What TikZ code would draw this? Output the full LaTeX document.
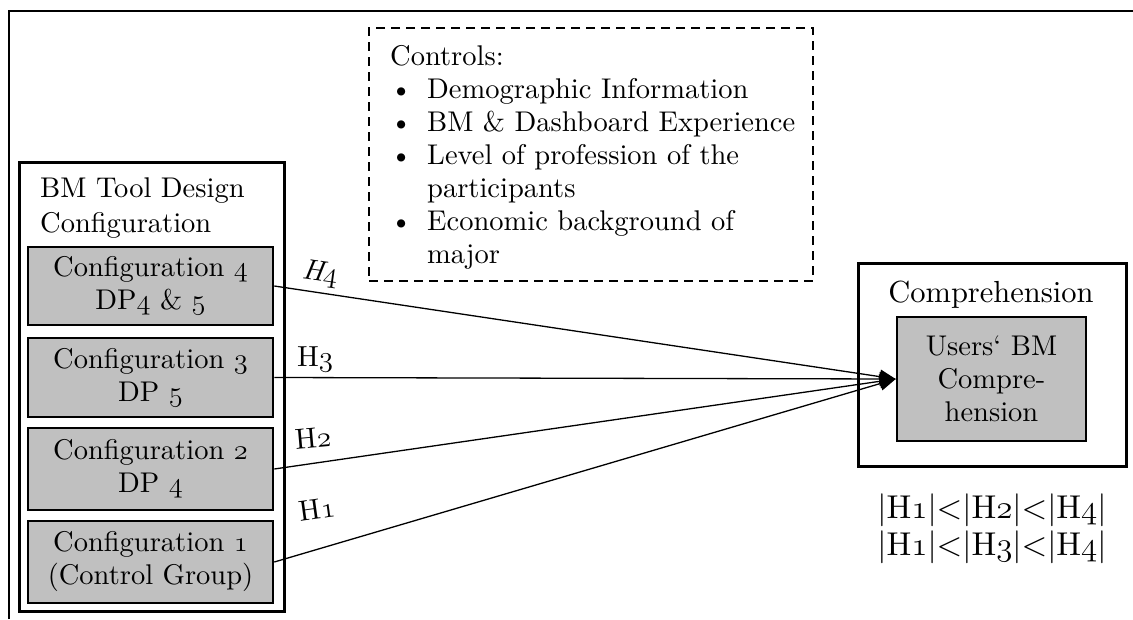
\RequirePackage{fix-cm}
\documentclass[tikz,border=0pt]{standalone}
\usepackage{fontspec}
\setmainfont{lmroman10-regular.otf}[ItalicFont=lmroman10-italic.otf, BoldFont=lmroman10-bold.otf]
\usetikzlibrary{arrows.meta}
\definecolor{boxgray}{RGB}{192,192,192}
\newcommand{\os}[1]{{\fontencoding{OML}\fontfamily{cmm}\fontseries{m}\fontshape{it}\selectfont #1}}
\tikzset{
  every node/.style={font=\fontsize{28.5}{33}\selectfont, inner sep=0pt},
  framebox/.style={draw, line width=2.5pt},
  cfgbox/.style={draw, line width=2.6pt, fill=boxgray, minimum width=245pt, minimum height=80pt, align=center},
  ctrlbox/.style={draw, line width=2pt, dash pattern=on 9pt off 6pt},
  conn/.style={line width=1.3pt, -{Triangle[length=16pt,width=14pt]}},
  hlab/.style={font=\fontsize{29}{30}\selectfont}
}
\begin{document}
\begin{tikzpicture}[x=1pt,y=-1pt]
\useasboundingbox (0,0) rectangle (1133,619);
% outer frame (cut off)
\draw[line width=2.5pt] (9,619) -- (9,11) -- (1133,11);

% left group
\node[framebox, minimum width=265pt, minimum height=449pt, anchor=north west] (design) at (18,161) {};
\node[anchor=north west, align=left] (designtitle) at (40,178) {BM Tool Design\\[2pt]Configuration};
\node[cfgbox, minimum height=78pt] (c4) at (150.5,286) {Configuration \os{4}\\DP\os{4} \& \os{5}};
\node[cfgbox, minimum height=79pt] (c3) at (150.5,377.5) {Configuration \os{3}\\DP \os{5}};
\node[cfgbox, minimum height=82pt] (c2) at (150.5,469) {Configuration \os{2}\\DP \os{4}};
\node[cfgbox, minimum height=82pt] (c1) at (150.5,562) {Configuration \os{1}\\(Control Group)};

% controls
\node[ctrlbox, minimum width=444pt, minimum height=253pt, anchor=north west] (controlsbox) at (368,27) {};
\node[anchor=north west, align=left] (controls) at (390,45) {Controls:\\
\makebox[37pt][l]{\textbullet}Demographic Information\\
\makebox[37pt][l]{\textbullet}BM \& Dashboard Experience\\
\makebox[37pt][l]{\textbullet}Level of profession of the\\
\hspace*{37pt}participants\\
\makebox[37pt][l]{\textbullet}Economic background of\\
\hspace*{37pt}major};

% comprehension
\node[framebox, minimum width=268pt, minimum height=203pt, anchor=north west] (comp) at (857,262) {};
\node[anchor=base, font=\fontsize{30.5}{33}\selectfont] (comptitle) at (991,302) {Comprehension};
\node[cfgbox, minimum width=189pt, minimum height=124pt] (users) at (991.5,379) {Users` BM\\Compre-\\hension};
\node[anchor=north, align=center, font=\fontsize{33}{37}\selectfont] (hyp) at (992,494) {|H\os{1}|<|H\os{2}|<|H\os{4}|\\|H\os{1}|<|H\os{3}|<|H\os{4}|};

% connectors
\draw[conn] (c4.east) -- (users.west);
\draw[conn] (c3.east) -- (users.west);
\draw[conn] (c2.east) -- (users.west);
\draw[conn] (c1.east) -- (users.west);

% labels
\node[hlab, rotate=-8] (h4) at (320,274) {\textit{H\os{4}}};
\node[hlab] (h3) at (315,359) {H\os{3}};
\node[hlab, rotate=5] (h2) at (313,438) {H\os{2}};
\node[hlab, rotate=8] (h1) at (317,509) {H\os{1}};
\end{tikzpicture}
\end{document}
